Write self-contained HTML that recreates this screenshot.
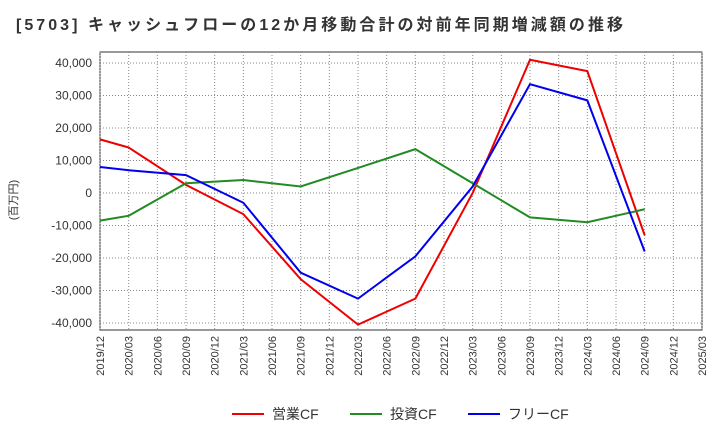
<!DOCTYPE html>
<html><head><meta charset="utf-8"><style>
body{margin:0;background:#fff;font-family:"Liberation Sans","Noto Sans CJK JP",sans-serif;}
svg text{font-family:"Liberation Sans","Noto Sans CJK JP",sans-serif;}
</style></head><body>
<svg id="c" width="720" height="440" xmlns="http://www.w3.org/2000/svg">
<text x="16" y="30" font-size="16" font-weight="bold" fill="#333" textLength="607" lengthAdjust="spacing">[5703]  キャッシュフローの12か月移動合計の対前年同期増減額の推移</text>
<text transform="translate(17,200) rotate(-90)" font-size="11" fill="#333" text-anchor="middle">(百万円)</text>
<g id="grid"></g><g id="axes"></g><g id="series"></g>
<g>
<line x1="232" y1="414" x2="264" y2="414" stroke="#e00" stroke-width="2"/>
<text x="272" y="419" font-size="14" fill="#333">営業CF</text>
<line x1="350" y1="414" x2="382" y2="414" stroke="#228b22" stroke-width="2"/>
<text x="390" y="419" font-size="14" fill="#333">投資CF</text>
<line x1="468" y1="414" x2="500" y2="414" stroke="#00e" stroke-width="2"/>
<text x="508" y="419" font-size="14" fill="#333">フリーCF</text>
</g>
</svg>
<script>
const xLabels=["2019/12","2020/03","2020/06","2020/09","2020/12","2021/03","2021/06","2021/09","2021/12","2022/03","2022/06","2022/09","2022/12","2023/03","2023/06","2023/09","2023/12","2024/03","2024/06","2024/09","2024/12","2025/03"];
const yTicks=[-40000,-30000,-20000,-10000,0,10000,20000,30000,40000];
const pointIdx=[0,1,3,5,7,9,11,13,15,17,19];
const operatingCF=[16500,14000,2500,-6500,-26500,-40500,-32500,0,41000,37500,-13000];
const investingCF=[-8500,-7000,3000,4000,2000,7700,13500,3000,-7500,-9000,-5000];
const freeCF=[8000,7000,5500,-3000,-24500,-32500,-19500,2000,33500,28500,-18000];
const L=100,R=702,T=52,B=330;
const x=i=>L+i*(R-L)/(xLabels.length-1);
const y=v=>193-v*130/40000;
const ns="http://www.w3.org/2000/svg";
function mk(p,t,a){const e=document.createElementNS(ns,t);for(const k in a)e.setAttribute(k,a[k]);document.getElementById(p).appendChild(e);return e;}
const bg=mk("grid","rect",{x:L,y:T,width:R-L,height:B-T,fill:"#fff",stroke:"#333","stroke-width":1});


xLabels.forEach((lab,i)=>{
 const g=mk("grid","line",{x1:x(i),x2:x(i),y1:T,y2:B,stroke:"#888","stroke-dasharray":"1,2"});
 
 
 const t=mk("axes","text",{transform:`translate(${x(i)+4},${B+6}) rotate(-90)`,"font-size":11,fill:"#333","text-anchor":"end"});
 t.textContent=lab;
 
 
});
yTicks.forEach(v=>{
 const g=mk("grid","line",{x1:L,x2:R,y1:y(v),y2:y(v),stroke:"#888","stroke-dasharray":"1,2"});
 
 
 const t=mk("axes","text",{x:L-8,y:y(v)+4,"font-size":12,fill:"#333","text-anchor":"end"});
 t.textContent=v.toLocaleString("en-US");
 
 
});
[[operatingCF,"#e00","operating-cf-line"],[investingCF,"#228b22","investing-cf-line"],[freeCF,"#00e","free-cf-line"]].forEach(([d,c,n])=>{
 const pts=d.map((v,j)=>x(pointIdx[j])+","+y(v)).join(" ");
 const p=mk("series","polyline",{points:pts,fill:"none",stroke:c,"stroke-width":2});
 
 
});
</script>
</body></html>
